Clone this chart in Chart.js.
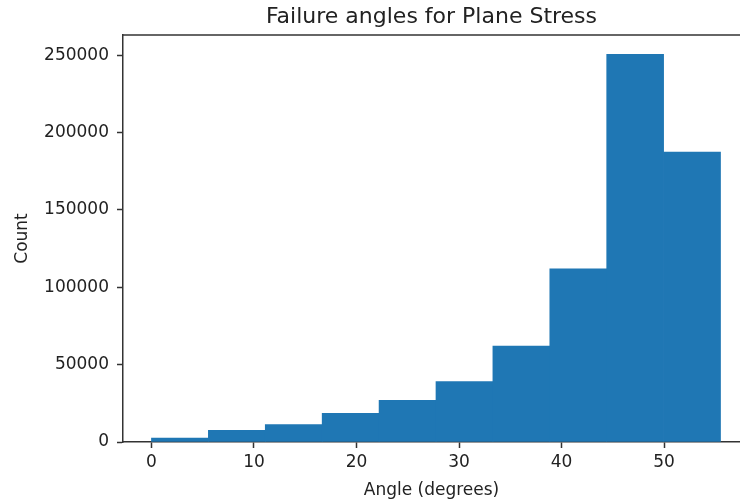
<!DOCTYPE html>
<html>
<head>
<meta charset="utf-8">
<script src="https://cdn.jsdelivr.net/npm/chart.js@4/dist/chart.umd.min.js"></script>
<style>
  html, body { margin: 0; padding: 0; background: #fff; overflow: hidden; }
</style>
</head>
<body>
<canvas id="histChart" width="740" height="503"></canvas>
<script>
// histogram bins (degrees) and counts per bin
const binEdges = [0, 5.55, 11.1, 16.65, 22.2, 27.75, 33.3, 38.85, 44.4, 49.95, 55.5];
const binCounts = [2600, 7500, 11200, 18500, 26900, 39100, 62000, 112000, 250600, 187500];
const xTicks = [0, 10, 20, 30, 40, 50];
const yTicks = [0, 50000, 100000, 150000, 200000, 250000];

const histData = binCounts.map((c, i) => ({ x: (binEdges[i] + binEdges[i + 1]) / 2, y: c }));

const spanX = binEdges[binEdges.length - 1] - binEdges[0];
const maxY = Math.max(...binCounts);
// the figure is clipped on the right, so the visible x range stops short of the full margin
const xMin = binEdges[0] - spanX * 0.05;
const xMax = 57.4;

const axisColor = '#333';
const textColor = '#222';
const font = (size) => ({ family: 'DejaVu Sans', size: size, weight: 'normal' });

// top spine of the axes box
const frame = {
    id: 'frame',
    afterDraw(chart) {
        const { ctx, chartArea: a } = chart;
        ctx.save();
        ctx.strokeStyle = axisColor;
        ctx.lineWidth = 1.5;
        ctx.beginPath();
        ctx.moveTo(a.left, a.top);
        ctx.lineTo(a.right, a.top);
        ctx.stroke();
        ctx.restore();
    }
};

const ctxHist = document.getElementById('histChart').getContext('2d');
const histChart = new Chart(ctxHist, {
    type: 'bar',
    data: {
        datasets: [{
            label: 'Count',
            data: histData,
            backgroundColor: '#1f77b4',
            borderWidth: 0,
            barPercentage: 1,
            categoryPercentage: 1
        }]
    },
    options: {
        responsive: false,
        devicePixelRatio: 1,
        animation: false,
        layout: { padding: 0 },
        plugins: {
            legend: { display: false },
            tooltip: { enabled: false },
            title: {
                display: true,
                fullSize: false,
                text: 'Failure angles for Plane Stress',
                color: textColor,
                font: font(22),
                padding: { top: 4, bottom: 4.6 }
            }
        },
        scales: {
            x: {
                type: 'linear',
                offset: false,
                min: xMin,
                max: xMax,
                afterBuildTicks: (s) => { s.ticks = xTicks.map(v => ({ value: v })); },
                afterFit: (s) => { s.height = 61; },
                ticks: {
                    color: textColor,
                    font: font(17),
                    padding: 4,
                    maxRotation: 0
                },
                grid: { offset: false, drawOnChartArea: false, drawTicks: true, tickLength: 6, tickWidth: 1.5, tickColor: axisColor },
                border: { display: true, color: axisColor, width: 1.5 },
                title: {
                    display: true,
                    text: 'Angle (degrees)',
                    color: textColor,
                    font: font(17),
                    padding: { top: 2, bottom: 2 }
                }
            },
            y: {
                min: 0,
                max: maxY * 1.05,
                afterBuildTicks: (s) => { s.ticks = yTicks.map(v => ({ value: v })); },
                afterFit: (s) => { s.width = 123; },
                ticks: {
                    color: textColor,
                    font: font(17),
                    padding: 8,
                    callback: (v) => String(v)
                },
                grid: { drawOnChartArea: false, drawTicks: true, tickLength: 6, tickWidth: 1.5, tickColor: axisColor },
                border: { display: true, color: axisColor, width: 1.5 },
                title: {
                    display: true,
                    text: 'Count',
                    color: textColor,
                    font: font(17),
                    padding: { top: 12, bottom: 4 }
                }
            }
        }
    },
    plugins: [frame]
});
</script>
</body>
</html>
